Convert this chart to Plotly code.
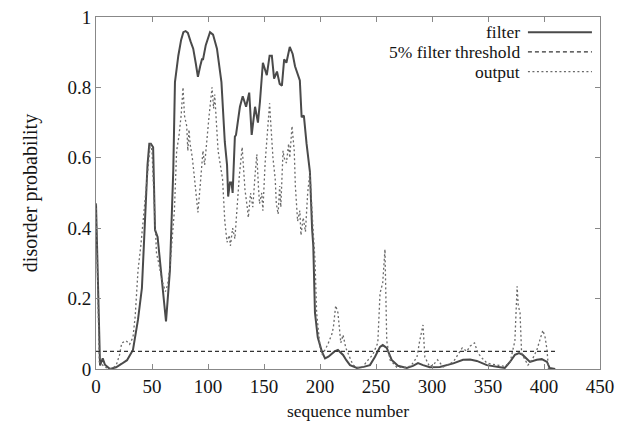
import plotly.graph_objects as go

# ---- data ----
filter_x = [0, 2, 3.6, 6, 8, 12.5, 18, 23, 27.7, 33, 37.5, 41, 44, 44.6, 46, 47.6, 49, 51, 52.7, 55, 58.6,
            62.5, 66, 69, 70.5, 73.5, 76, 78, 80, 82, 84.5, 86.8, 89, 91, 93, 94.6, 95.6, 98, 101.8, 104.5,
            108, 112, 115, 117, 118, 119.6, 121, 122, 124, 125, 128.5, 131, 134, 136.8, 139, 142, 144.6,
            146.4, 149, 151, 152.5, 155, 157, 159, 161.6, 164, 166, 168, 170, 173, 175.6, 177.7, 180.6,
            182, 183.6, 185.6, 188, 191, 193, 194, 195.5, 198, 201.6, 204.5, 207.5, 210.7, 213, 216,
            220.6, 223.5, 226.8, 233, 239, 244.6, 249, 253.6, 256, 259.6, 264, 269.6, 277.5, 283, 287.5,
            292, 298, 307, 316, 319, 327.7, 334, 340, 349, 360.7, 365, 369.6, 374, 377.7, 381, 387.5,
            393.6, 398, 402.7, 405, 410]
filter_y = [0.47, 0.2, 0.01, 0.03, 0.012, 0.0, 0.005, 0.015, 0.025, 0.054, 0.14, 0.23, 0.42, 0.5, 0.58,
            0.64, 0.64, 0.63, 0.395, 0.375, 0.26, 0.135, 0.28, 0.565, 0.815, 0.89, 0.935, 0.957, 0.96,
            0.955, 0.93, 0.91, 0.87, 0.83, 0.86, 0.88, 0.88, 0.92, 0.957, 0.95, 0.91, 0.815, 0.645, 0.58,
            0.49, 0.53, 0.53, 0.50, 0.66, 0.665, 0.745, 0.775, 0.745, 0.785, 0.665, 0.745, 0.70, 0.76,
            0.87, 0.85, 0.835, 0.89, 0.89, 0.825, 0.845, 0.81, 0.805, 0.88, 0.87, 0.915, 0.895, 0.86,
            0.83, 0.82, 0.715, 0.72, 0.64, 0.56, 0.395, 0.35, 0.16, 0.09, 0.05, 0.03, 0.035, 0.045, 0.05,
            0.054, 0.04, 0.025, 0.011, 0.003, 0.006, 0.011, 0.034, 0.063, 0.068, 0.06, 0.026, 0.009,
            0.003, 0.009, 0.017, 0.011, 0.005, 0.006, 0.014, 0.016, 0.026, 0.027, 0.023, 0.011, 0.005,
            0.003, 0.02, 0.04, 0.045, 0.04, 0.02, 0.026, 0.028, 0.02, 0.003, 0.0]

output_x = [0, 3, 8, 14, 18, 21, 23, 27, 30, 33, 35, 37.5, 40, 42, 44, 45.5, 47, 48.5, 50, 51.5, 54,
            56, 59, 62, 64, 66, 68, 70, 72, 74, 76, 77.7, 79, 81, 82, 83, 84, 86, 88, 90, 91, 93, 95.5,
            97, 99, 101, 103.6, 105, 106, 108, 109, 111, 113, 115, 117, 119, 120, 122, 124, 126, 128,
            130.5, 132, 133, 135, 136, 138, 140, 142, 143.6, 145, 146, 148, 149, 151, 153, 155, 156,
            158, 160, 161, 162.6, 164, 165, 167, 168, 170, 172, 173, 175, 177, 178, 180, 182, 183, 185,
            187, 189, 191, 193, 195.5, 197, 200, 202, 204.5, 207, 210.7, 212, 214, 216, 218.6, 220.6,
            223, 225, 229.5, 234, 238, 243, 247, 251.6, 253.6, 256, 258, 259.6, 262.5, 268.6, 275,
            281, 286.6, 289, 292, 293.6, 298, 302, 305, 310, 314, 319, 323, 327, 331, 334, 338, 341,
            345, 349, 358, 364, 369.6, 372, 374, 376, 377, 378.6, 380, 385.7, 390, 393.6, 396, 399,
            401, 402.7, 404]
output_y = [0.47, 0.02, 0.005, 0.0, 0.01, 0.04, 0.074, 0.08, 0.07, 0.09, 0.15, 0.28, 0.35, 0.42, 0.48,
            0.54, 0.58, 0.64, 0.62, 0.5, 0.33, 0.30, 0.25, 0.22, 0.24, 0.29, 0.38, 0.45, 0.62, 0.66, 0.72,
            0.80, 0.72, 0.69, 0.62, 0.68, 0.64, 0.60, 0.54, 0.48, 0.445, 0.52, 0.62, 0.58, 0.66, 0.72,
            0.80, 0.74, 0.78, 0.65, 0.62, 0.58, 0.54, 0.42, 0.36, 0.38, 0.35, 0.40, 0.37, 0.46, 0.55,
            0.63, 0.56, 0.51, 0.46, 0.43, 0.50, 0.46, 0.55, 0.61, 0.52, 0.47, 0.50, 0.45, 0.585, 0.66,
            0.755, 0.70, 0.60, 0.54, 0.47, 0.44, 0.52, 0.46, 0.62, 0.60, 0.585, 0.64, 0.60, 0.69, 0.62,
            0.52, 0.42, 0.45, 0.38, 0.43, 0.39, 0.50, 0.56, 0.44, 0.31, 0.16, 0.063, 0.04, 0.054, 0.07,
            0.10, 0.12, 0.18, 0.16, 0.074, 0.097, 0.06, 0.045, 0.011, 0.004, 0.006, 0.026, 0.04, 0.074,
            0.215, 0.245, 0.34, 0.08, 0.026, 0.005, 0.004, 0.008, 0.034, 0.08, 0.125, 0.034, 0.006,
            0.015, 0.026, 0.006, 0.012, 0.02, 0.04, 0.06, 0.05, 0.065, 0.074, 0.045, 0.03, 0.017, 0.011,
            0.008, 0.017, 0.05, 0.08, 0.235, 0.18, 0.16, 0.045, 0.011, 0.03, 0.054, 0.08, 0.11, 0.09,
            0.054, 0.0]

threshold_x = [0, 410]
threshold_y = [0.05, 0.05]

x_ticks = [0, 50, 100, 150, 200, 250, 300, 350, 400, 450]
y_ticks = [0, 0.2, 0.4, 0.6, 0.8, 1]
y_tick_labels = ["0", "0.2", "0.4", "0.6", "0.8", "1"]
legend_names = ["filter", "5% filter threshold", "output"]

FONT = "Liberation Serif"
TXT = "#151515"

filter_style = dict(color="#4a4a4a", width=2)
thresh_style = dict(color="#333333", width=1.2, dash="4px,3px")
output_style = dict(color="#6a6a6a", width=1.3, dash="2px,2.5px")

fig = go.Figure()
fig.add_trace(go.Scatter(x=filter_x, y=filter_y, mode="lines", name=legend_names[0], line=filter_style))
fig.add_trace(go.Scatter(x=threshold_x, y=threshold_y, mode="lines", name=legend_names[1], line=thresh_style))
fig.add_trace(go.Scatter(x=output_x, y=output_y, mode="lines", name=legend_names[2], line=output_style))

# gnuplot-style legend: right-aligned text, line sample to the right
rows = [0.957, 0.901, 0.845]
for name, st, yr in zip(legend_names, [filter_style, thresh_style, output_style], rows):
    fig.add_annotation(x=0.845, y=yr, xref="paper", yref="paper", text=name, showarrow=False,
                       xanchor="right", yanchor="middle", font=dict(family=FONT, size=17.5, color=TXT))
    fig.add_shape(type="line", xref="paper", yref="paper", x0=0.857, x1=0.984, y0=yr, y1=yr, line=st)

axis_common = dict(showgrid=False, zeroline=False, showline=True, mirror="ticks", linecolor="#888888",
                   linewidth=1, ticks="inside", ticklen=5, tickcolor="#888888", automargin=False,
                   tickfont=dict(family=FONT, size=19, color=TXT))
fig.update_layout(
    width=627, height=423, plot_bgcolor="white", paper_bgcolor="white", showlegend=False,
    margin=dict(l=96, r=27, t=17, b=54, autoexpand=False),
    xaxis=dict(range=[0, 450], tickvals=x_ticks, title=dict(text="sequence number", standoff=8,
               font=dict(family=FONT, size=17.5, color=TXT)), **axis_common),
    yaxis=dict(range=[0, 1], tickvals=y_ticks, ticktext=y_tick_labels, title=dict(
               text="disorder probability", standoff=24, font=dict(family=FONT, size=20, color=TXT)),
               **axis_common),
)
fig.write_html("out.html", config={"displayModeBar": False},
               post_script="document.body.style.margin='0px';")
